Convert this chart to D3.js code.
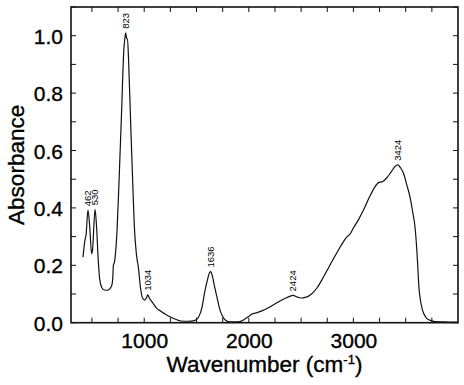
<!DOCTYPE html>
<html>
<head>
<meta charset="utf-8">
<script src="https://cdn.jsdelivr.net/npm/d3@7"></script>
<style>
html,body{margin:0;padding:0;background:#fff;}
svg{display:block;}
text{font-family:"Liberation Sans",Arial,Helvetica,sans-serif;fill:#000;}
.big{stroke:#000;stroke-width:0.35px;}
</style>
</head>
<body>
<svg id="chart" width="464" height="385"></svg>
<script>
// Wavenumber (cm-1) and absorbance
const wavenumber = [415,430,445,462,480,497,505,530,545,560,575,595,620,650,670,690,700,705,715,725,740,760,785,805,815,823,832,840,850,870,890,905,925,945,965,985,1005,1020,1034,1050,1080,1120,1160,1200,1250,1300,1350,1420,1480,1520,1550,1580,1605,1625,1636,1650,1670,1695,1720,1745,1780,1820,1900,1960,2000,2030,2080,2130,2200,2260,2320,2380,2424,2460,2500,2540,2600,2650,2700,2760,2820,2860,2900,2940,2970,3000,3050,3100,3150,3200,3240,3280,3320,3360,3400,3424,3450,3480,3510,3540,3565,3590,3605,3615,3625,3640,3660,3690,3720,3780,3850,3950,4000];
const absorbance = [0.228,0.28,0.31,0.392,0.33,0.24,0.25,0.395,0.33,0.22,0.15,0.122,0.114,0.113,0.118,0.13,0.16,0.2,0.21,0.24,0.32,0.5,0.75,0.95,0.99,1.01,0.99,0.99,0.92,0.70,0.49,0.34,0.24,0.19,0.12,0.085,0.079,0.085,0.097,0.085,0.07,0.05,0.04,0.03,0.02,0.012,0.006,0.005,0.007,0.02,0.05,0.11,0.15,0.175,0.178,0.165,0.13,0.09,0.05,0.025,0.008,0.003,0.003,0.012,0.022,0.03,0.035,0.042,0.055,0.068,0.08,0.09,0.095,0.09,0.086,0.088,0.1,0.12,0.15,0.19,0.23,0.255,0.28,0.3,0.31,0.33,0.36,0.395,0.435,0.47,0.488,0.492,0.505,0.525,0.545,0.55,0.54,0.52,0.48,0.44,0.39,0.33,0.26,0.2,0.13,0.08,0.045,0.02,0.01,0.004,0.003,0.002,0.002];

const peakLabels = ["462","530","823","1034","1636","2424","3424"];
const peakWavenumbers = [462,530,823,1034,1636,2424,3424];
const peakAbsorbance = [0.392,0.395,1.01,0.097,0.178,0.095,0.55];

const xTickValues = [1000,2000,3000];
const yTickValues = [0,0.2,0.4,0.6,0.8,1.0];
const xMinorTicks = d3.range(500,4000,250);
const yMinorTicks = d3.range(0,1.1001,0.1);

const xTitle = "Wavenumber (cm";
const xTitleSup = "-1";
const yTitle = "Absorbance";

const svg = d3.select("#chart");
const L = 71, R = 458, T = 7, B = 322.7;
const x = d3.scaleLinear().domain([300,4000]).range([L,R]);
const y = d3.scaleLinear().domain([0,1.1]).range([B,T]);

// minor ticks, inward, on all four sides
const tickLen = 5;
const tg = svg.append("g").attr("stroke","#111").attr("stroke-width",1);
xMinorTicks.forEach(v=>{
  tg.append("line").attr("x1",x(v)).attr("x2",x(v)).attr("y1",B).attr("y2",B-tickLen);
  tg.append("line").attr("x1",x(v)).attr("x2",x(v)).attr("y1",T).attr("y2",T+tickLen);
});
yMinorTicks.forEach(v=>{
  tg.append("line").attr("x1",L).attr("x2",L+tickLen).attr("y1",y(v)).attr("y2",y(v));
  tg.append("line").attr("x1",R).attr("x2",R-tickLen).attr("y1",y(v)).attr("y2",y(v));
});

// bottom axis labels
const xAxis = d3.axisBottom(x).tickValues(xTickValues).tickSize(0).tickPadding(0).tickFormat(d3.format("d"));
const gx = svg.append("g").attr("transform",`translate(0,${B})`).call(xAxis);
gx.select(".domain").remove();
gx.selectAll("text").attr("class","big").attr("y",25).attr("dy",0).style("font-size","21px").attr("fill","#000");

const yAxis = d3.axisLeft(y).tickValues(yTickValues).tickSize(0).tickPadding(0).tickFormat(d3.format(".1f"));
const gy = svg.append("g").attr("transform",`translate(${L},0)`).call(yAxis);
gy.select(".domain").remove();
gy.selectAll("text").attr("class","big").attr("x",-8).attr("dy","0.36em").style("font-size","21px").attr("fill","#000");

// spectrum
const line = d3.line().x((d,i)=>x(wavenumber[i])).y((d,i)=>y(absorbance[i])).curve(d3.curveMonotoneX);
svg.append("path").datum(absorbance).attr("d",line).attr("fill","none").attr("stroke","#111").attr("stroke-width",1.2).attr("stroke-linejoin","round");

// frame
svg.append("rect").attr("x",L).attr("y",T).attr("width",R-L).attr("height",B-T).attr("fill","none").attr("stroke","#111").attr("stroke-width",1.6);

// peak labels
peakLabels.forEach((lab,i)=>{
  const px = x(peakWavenumbers[i]), py = y(peakAbsorbance[i]) - 4;
  svg.append("text").attr("transform",`translate(${px},${py}) rotate(-90)`).attr("dy","0.35em").attr("text-anchor","start").style("font-size","9.5px").attr("fill","#222").text(lab);
});

// titles
const xt = svg.append("text").attr("class","big").attr("x",(L+R)/2).attr("y",372).attr("text-anchor","middle").style("font-size","22.5px");
xt.append("tspan").text(xTitle);
xt.append("tspan").attr("dy",-8).style("font-size","13px").text(xTitleSup);
xt.append("tspan").attr("dy",8).text(")");

svg.append("text").attr("class","big").attr("transform",`translate(24,${(T+B)/2}) rotate(-90)`).attr("text-anchor","middle").style("font-size","22.5px").text(yTitle);
</script>
</body>
</html>
